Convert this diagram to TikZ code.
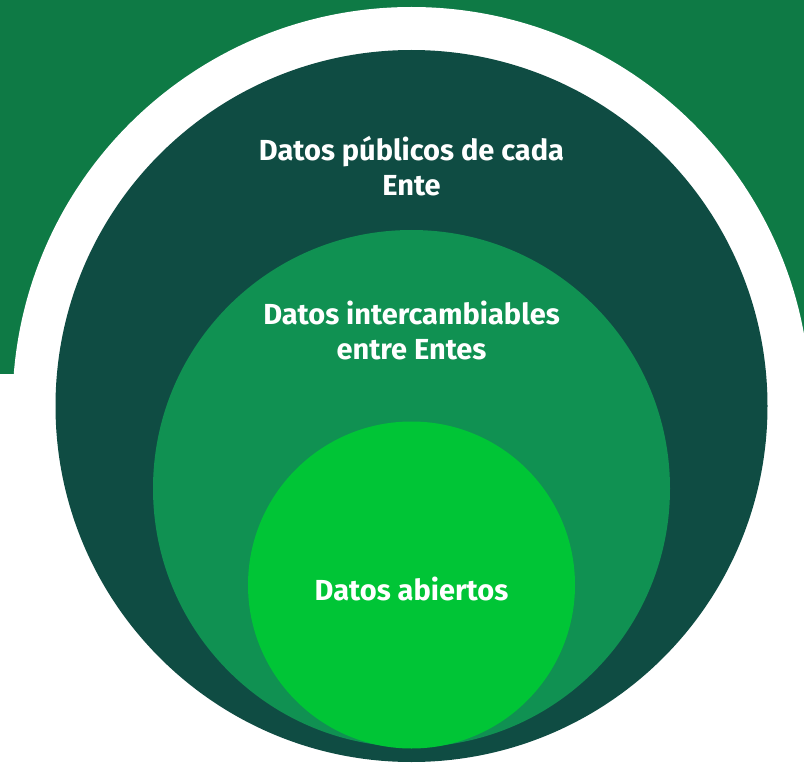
\documentclass[tikz,border=0pt]{standalone}
\usepackage{fontspec}
\setmainfont{Fira Sans}
\definecolor{bggreen}{HTML}{0E7A45}
\definecolor{darkgreen}{HTML}{0F4C43}
\definecolor{midgreen}{HTML}{109152}
\definecolor{lightgreen}{HTML}{00C536}
\tikzset{
  lbl/.style={text=white, font=\fontsize{29}{35}\selectfont\bfseries, align=center, inner sep=0pt, anchor=base}
}
\begin{document}
\begin{tikzpicture}[x=1pt,y=-1pt]
\useasboundingbox (0,0) rectangle (804,765);
\fill[white] (0,0) rectangle (804,765);
\fill[bggreen] (0,0) rectangle (804,374);
\fill[white] (411.5,406) circle[radius=399];
\fill[darkgreen] (411.5,406) circle[radius=356];
\fill[midgreen] (411.5,488.5) circle[radius=258.5];
\fill[lightgreen] (411.5,585) circle[radius=163.5];
\node[lbl] (outer) at (411.5,195.5) {Datos públicos de cada\\Ente};
\node[lbl] (mid) at (411.5,359) {Datos intercambiables\\entre Entes};
\node[lbl] (inner) at (411.5,600) {Datos abiertos};
\end{tikzpicture}
\end{document}
